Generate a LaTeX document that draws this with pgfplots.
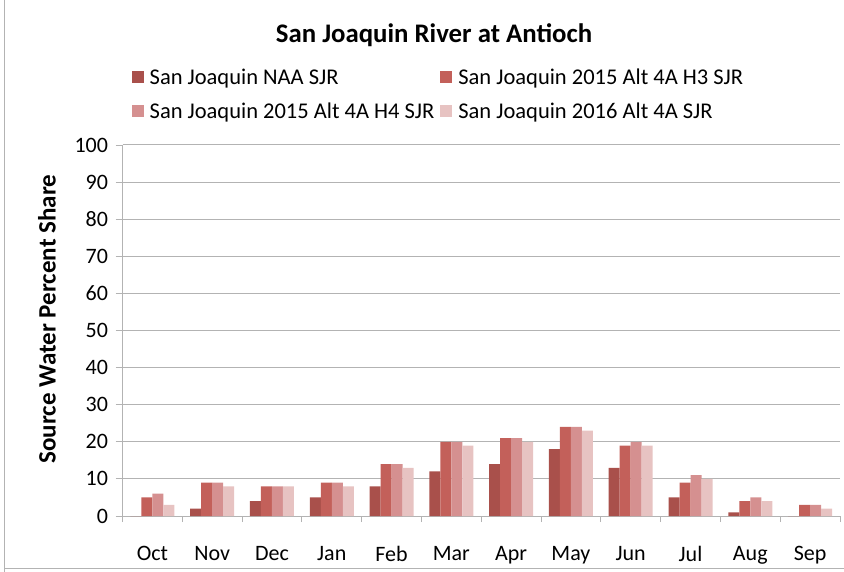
\documentclass[border=0pt]{standalone}
\usepackage{pgfplots}
\pgfplotsset{compat=1.18}
\usepackage{fontspec}
\setmainfont{Carlito}
\definecolor{c1}{HTML}{A9504B}
\definecolor{c2}{HTML}{C3605A}
\definecolor{c3}{HTML}{D59090}
\definecolor{c4}{HTML}{E7C3C2}
\definecolor{gr}{HTML}{B3B3B3}
\begin{document}
\begin{tikzpicture}
\path[use as bounding box] (0bp,0bp) rectangle (844bp,572bp);
\draw[gr, line width=0.8bp] (4bp,0bp) -- (4bp,571.5bp) ;
\draw[gr, line width=0.8bp] (4bp,4bp) -- (844bp,4bp);
\node[font=\fontsize{26.8bp}{30bp}\selectfont\bfseries] at (434bp,537bp) {San Joaquin River at Antioch};
\node[font=\fontsize{25bp}{28bp}\selectfont\bfseries, rotate=90] at (47bp,253bp) {Source Water Percent Share};
\begin{axis}[
  at={(122.5bp,56bp)}, anchor=south west,
  scale only axis, width=717.5bp, height=371bp,
  ybar=0pt, bar width=11bp,
  xmin=-0.5, xmax=11.5, ymin=0, ymax=100,
  ytick={0,10,...,100},
  xtick={0,...,11},
  xticklabels={Oct,Nov,Dec,Jan,Feb,Mar,Apr,May,Jun,Jul,Aug,Sep},
  minor xtick={-0.5,0.5,...,11.5},
  major x tick style={draw=none},
  minor x tick style={gr, line width=0.8bp},
  minor tick length=6bp,
  tick align=outside,
  y tick style={gr, line width=0.8bp},
  major tick length=7bp,
  ymajorgrids, grid style={gr, line width=1bp},
  axis x line*=bottom, axis y line*=left,
  axis line style={gr, line width=1bp},
  x axis line style={-}, y axis line style={-},
  tick label style={font=\fontsize{22bp}{24bp}\selectfont},
  /pgf/number format/assume math mode=true,
  xticklabel style={yshift=-20bp},
  yticklabel style={xshift=-4bp},
  legend columns=2,
  legend cell align=left,
  legend style={draw=none, fill=none, font=\fontsize{22.5bp}{26bp}\selectfont,
    at={(0.0,1.0)}, anchor=south west, xshift=6bp, yshift=21bp,
    /tikz/every odd column/.append style={column sep=4bp},
    /tikz/every even column/.append style={column sep=4bp},
    row sep=13bp},
  legend image code/.code={\fill[#1] (0bp,-6bp) rectangle (12bp,6bp);},
  clip=false,
]
\addplot[fill=c1, draw=none] coordinates {(0,0)(1,2)(2,4)(3,5)(4,8)(5,12)(6,14)(7,18)(8,13)(9,5)(10,1)(11,0)};
\addplot[fill=c2, draw=none] coordinates {(0,5)(1,9)(2,8)(3,9)(4,14)(5,20)(6,21)(7,24)(8,19)(9,9)(10,4)(11,3)};
\addplot[fill=c3, draw=none] coordinates {(0,6)(1,9)(2,8)(3,9)(4,14)(5,20)(6,21)(7,24)(8,20)(9,11)(10,5)(11,3)};
\addplot[fill=c4, draw=none] coordinates {(0,3)(1,8)(2,8)(3,8)(4,13)(5,19)(6,20)(7,23)(8,19)(9,10)(10,4)(11,2)};
\legend{San Joaquin NAA SJR,San Joaquin 2015 Alt 4A H3 SJR,San Joaquin 2015 Alt 4A H4 SJR,San Joaquin 2016 Alt 4A SJR}
\end{axis}
\end{tikzpicture}
\end{document}
